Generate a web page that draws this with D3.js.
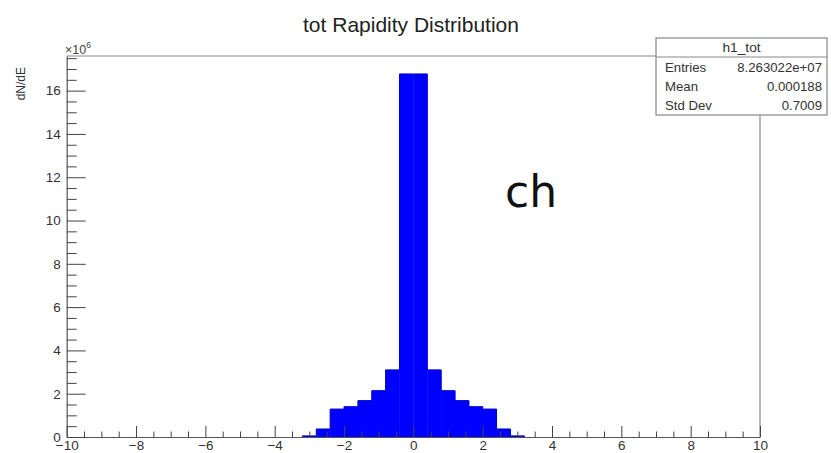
<!DOCTYPE html>
<html>
<head>
<meta charset="utf-8">
<script src="https://cdn.jsdelivr.net/npm/d3@7"></script>
<style>
  html, body { margin: 0; padding: 0; background: #fff; }
  svg { display: block; }
</style>
</head>
<body>
<svg id="chart" width="831" height="453" font-family="'Liberation Sans', Arial, Helvetica, sans-serif"></svg>
<script>
// ---- data (values in units of 10^6) ----
const binLow = -10, binHigh = 10, binWidth = 0.4;
const binLeftEdges = [-3.2, -2.8, -2.4, -2.0, -1.6, -1.2, -0.8, -0.4, 0.0, 0.4, 0.8, 1.2, 1.6, 2.0, 2.4, 2.8];
const binCounts    = [0.05, 0.37, 1.29, 1.40, 1.68, 2.14, 3.10, 16.77, 16.77, 3.10, 2.14, 1.68, 1.40, 1.29, 0.37, 0.05];
const xTicks = [-10, -8, -6, -4, -2, 0, 2, 4, 6, 8, 10];
const yTicks = [0, 2, 4, 6, 8, 10, 12, 14, 16];
const titleText = "tot Rapidity Distribution";
const yTitle = "dN/dE";
const statsName = "h1_tot";
const statsLabels = ["Entries", "Mean", "Std Dev"];
const statsValues = ["8.263022e+07", "0.000188", "0.7009"];
const overlayText = "ch";

const svg = d3.select("#chart");
const L = 66.7, R = 760, T = 56, B = 437;
const x = d3.scaleLinear().domain([binLow, binHigh]).range([L, R]);
const y = d3.scaleLinear().domain([0, 17.6]).range([B, T]);

// histogram bars
const bins = binLeftEdges.map((e, i) => ({x0: e, x1: e + binWidth, v: binCounts[i]}));
svg.append("g").selectAll("rect").data(bins).join("rect")
  .attr("x", d => x(d.x0))
  .attr("y", d => y(d.v))
  .attr("width", d => x(d.x1) - x(d.x0) + 0.4)
  .attr("height", d => y(0) - y(d.v))
  .attr("fill", "#0000ff");

// step outline
const stepPts = [];
bins.forEach(d => { stepPts.push([x(d.x0), y(d.v)]); stepPts.push([x(d.x1), y(d.v)]); });
svg.append("path")
  .attr("d", d3.line()([[x(bins[0].x0), y(0)], ...stepPts, [x(bins[bins.length-1].x1), y(0)]]))
  .attr("fill", "none").attr("stroke", "#0000c8").attr("stroke-width", 1);

// frame (top & right)
svg.append("line").attr("x1", L).attr("x2", R).attr("y1", T).attr("y2", T)
  .attr("stroke", "#8a8a8a").attr("stroke-width", 1.2);
svg.append("line").attr("x1", R).attr("x2", R).attr("y1", T).attr("y2", B)
  .attr("stroke", "#8a8a8a").attr("stroke-width", 1.2);

// x axis: minor ticks
const xMinor = d3.range(-10, 10.001, 0.5).filter(v => Math.abs(v % 2) > 1e-9);
const gxm = svg.append("g").attr("transform", `translate(0,${B})`)
  .call(d3.axisBottom(x).tickValues(xMinor).tickSize(-5.5).tickSizeOuter(0).tickFormat(""));
gxm.select(".domain").remove();
const gx = svg.append("g").attr("transform", `translate(0,${B})`)
  .call(d3.axisBottom(x).tickValues(xTicks).tickSize(-11).tickSizeOuter(0).tickPadding(3.5));
gx.select(".domain").attr("stroke", "#555").attr("stroke-width", 1.2);
gx.selectAll(".tick text").attr("font-size", 13.5).attr("fill", "#333")
  .attr("font-family", null);
[gx, gxm].forEach(g => g.selectAll(".tick line").attr("stroke", "#444"));
gx.attr("font-family", null).attr("font-size", null);

// y axis
const yMinor = d3.range(0, 17.6, 0.5).filter(v => Math.abs(v % 2) > 1e-9);
const gym = svg.append("g").attr("transform", `translate(${L},0)`)
  .call(d3.axisLeft(y).tickValues(yMinor).tickSize(-10).tickSizeOuter(0).tickFormat(""));
gym.select(".domain").remove();
const gy = svg.append("g").attr("transform", `translate(${L},0)`)
  .call(d3.axisLeft(y).tickValues(yTicks).tickSize(-19).tickSizeOuter(0).tickPadding(6));
gy.select(".domain").attr("stroke", "#555").attr("stroke-width", 1.2);
gy.selectAll(".tick text").attr("font-size", 13.5).attr("fill", "#333");
gy.attr("font-family", null).attr("font-size", null);
[gy, gym].forEach(g => g.selectAll(".tick line").attr("stroke", "#444"));

// exponent
const ex = svg.append("text").attr("x", 65).attr("y", 54).attr("font-size", 12.5).attr("fill", "#444");
ex.append("tspan").text("\u00d710");
ex.append("tspan").attr("dy", -6.5).attr("font-size", 8.5).text("6");

// y title
svg.append("text").attr("transform", "translate(25,67) rotate(-90)")
  .attr("text-anchor", "end").attr("font-size", 12).attr("fill", "#333").text(yTitle);

// title
svg.append("text").attr("x", 411).attr("y", 32).attr("text-anchor", "middle")
  .attr("font-size", 21).attr("fill", "#222").text(titleText);

// stats box
const sb = svg.append("g");
sb.append("rect").attr("x", 656).attr("y", 38).attr("width", 171).attr("height", 77)
  .attr("fill", "#fff").attr("stroke", "#888").attr("stroke-width", 1.2);
sb.append("line").attr("x1", 656).attr("x2", 827).attr("y1", 57).attr("y2", 57)
  .attr("stroke", "#888").attr("stroke-width", 1.2);
sb.append("text").attr("transform", "translate(741.5,52) scale(1.1,1)").attr("text-anchor", "middle")
  .attr("font-size", 12.5).attr("fill", "#333").text(statsName);
const rowY = [72, 91, 110];
statsLabels.forEach((lab, i) => {
  sb.append("text").attr("transform", `translate(665,${rowY[i]}) scale(1.1,1)`)
    .attr("font-size", 12).attr("fill", "#333").text(lab);
  sb.append("text").attr("transform", `translate(822,${rowY[i]}) scale(1.1,1)`)
    .attr("text-anchor", "end").attr("font-size", 12).attr("fill", "#333").text(statsValues[i]);
});

// overlay text
svg.append("text").attr("x", 505).attr("y", 207)
  .attr("font-family", "'DejaVu Sans', sans-serif").attr("font-size", 44).attr("fill", "#111")
  .text(overlayText);
</script>
</body>
</html>
